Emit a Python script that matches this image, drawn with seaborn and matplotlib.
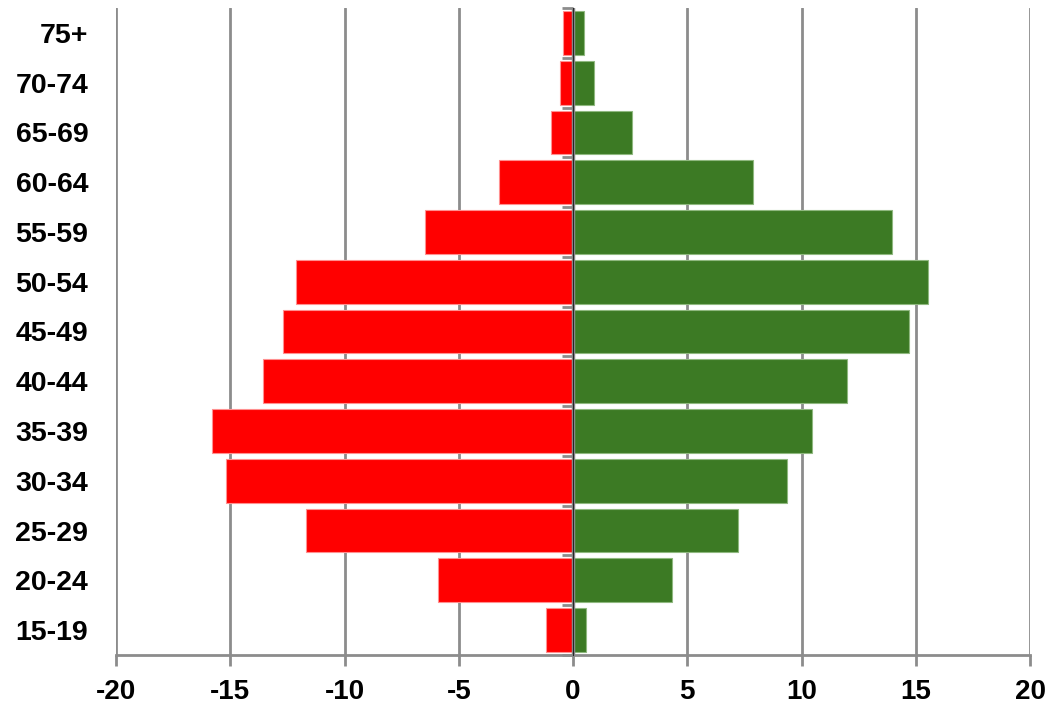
import matplotlib
matplotlib.use("Agg")
import matplotlib.pyplot as plt
import seaborn as sns
import pandas as pd

# grupos de idade, de cima para baixo
idades = ["75+", "70-74", "65-69", "60-64", "55-59", "50-54", "45-49",
          "40-44", "35-39", "30-34", "25-29", "20-24", "15-19"]

# lado esquerdo (vermelho) e direito (verde)
esquerda = [-0.43, -0.55, -0.98, -3.22, -6.47, -12.12, -12.71,
            -13.57, -15.81, -15.19, -11.69, -5.93, -1.17]
direita = [0.46, 0.9, 2.6, 7.88, 13.97, 15.52, 14.71,
           12.0, 10.46, 9.38, 7.2, 4.34, 0.55]

xticks = [-20, -15, -10, -5, 0, 5, 10, 15, 20]

sns.set_style("white")
plt.rcParams["font.family"] = ["Liberation Sans", "DejaVu Sans"]
plt.rcParams["axes.unicode_minus"] = False

cinza = "#8c8c8c"

dados = pd.DataFrame({"idade": idades, "esq": esquerda, "dir": direita})

fig = plt.figure(figsize=(10.5, 7.03), dpi=100)
ax = fig.add_axes([0.1105, 0.0683, 0.8705, 0.9203])

sns.barplot(data=dados, x="esq", y="idade", order=idades, orient="h",
            color="#ff0000", saturation=1, width=0.88,
            edgecolor="#ff9090", linewidth=0.8, ax=ax, zorder=3)
sns.barplot(data=dados, x="dir", y="idade", order=idades, orient="h",
            color="#3c7a24", saturation=1, width=0.88,
            edgecolor="#8fb87f", linewidth=0.8, ax=ax, zorder=3)

ax.set_xlim(-20, 20)
ax.set_ylim(len(idades) - 0.5, -0.5)
ax.set_xlabel("")
ax.set_ylabel("")

ax.set_xticks(xticks)
ax.set_xticklabels([str(v) for v in xticks], fontsize=20, fontweight="bold", color="black")
ax.tick_params(axis="x", direction="out", length=8, width=2, color=cinza, pad=9, bottom=True)
ax.tick_params(axis="y", length=0, pad=20)
for lab in ax.get_yticklabels():
    lab.set_fontsize(20.5)
    lab.set_fontweight("bold")
    lab.set_color("black")

ax.grid(axis="x", color=cinza, linewidth=2, zorder=0)
ax.set_axisbelow(True)
for s in ["top", "right", "left"]:
    ax.spines[s].set_visible(False)
ax.spines["bottom"].set_color(cinza)
ax.spines["bottom"].set_linewidth(2)
ax.spines["bottom"].set_zorder(4)

# linha do zero por cima das barras
ax.axvline(0, color=cinza, linewidth=2.5, zorder=4)

# eixo do meio com marcas entre as categorias
eixo = ax.secondary_yaxis(0.5)
eixo.set_zorder(5)
eixo.spines["left"].set_color(cinza)
eixo.spines["left"].set_linewidth(2.5)
eixo.set_yticks([i - 0.5 for i in range(len(idades) + 1)])
eixo.set_yticklabels([])
eixo.yaxis.set_ticks_position("left")
eixo.tick_params(axis="y", direction="out", length=8, width=2, color=cinza,
                 labelleft=False, labelright=False)

fig.savefig("out.png", dpi=100)
